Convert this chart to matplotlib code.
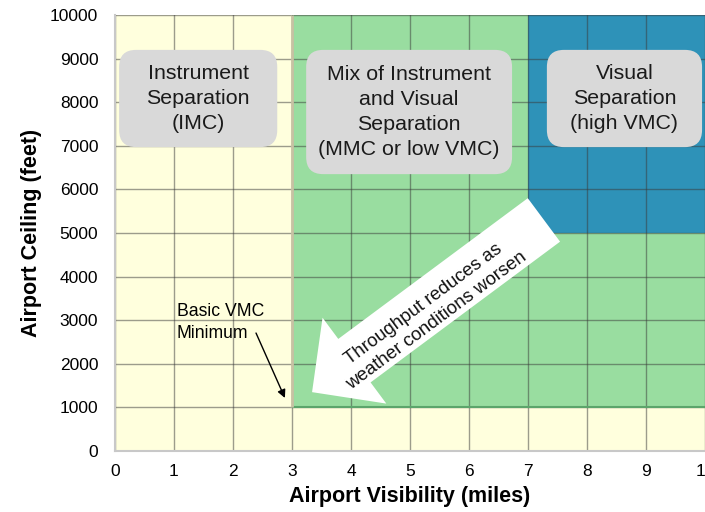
import matplotlib
matplotlib.use('Agg')
import matplotlib.pyplot as plt
from matplotlib.patches import Rectangle, FancyBboxPatch, FancyArrowPatch, ArrowStyle
import numpy as np

plt.rcParams['font.family'] = ['Liberation Sans', 'DejaVu Sans']

# Axis ticks
vis_ticks = list(range(0, 11))                 # miles
ceil_ticks = list(range(0, 10001, 1000))       # feet

# Region boundaries
basic_vmc_vis = 3          # miles
basic_vmc_ceiling = 1000   # feet
high_vmc_vis = 7
high_vmc_ceiling = 5000

# Region labels: (text, x0, x1, y0, y1)
region_labels = ['Instrument\nSeparation\n(IMC)',
                 'Mix of Instrument\nand Visual\nSeparation\n(MMC or low VMC)',
                 'Visual\nSeparation\n(high VMC)']
label_x0 = [0.07, 3.24, 7.32]
label_x1 = [2.75, 6.73, 9.95]
label_y0 = [6970, 6350, 6970]
label_y1 = [9200, 9200, 9200]

# Colours
yellow = '#FFFFDD'
green = '#99DDA0'
blue = '#2E92B8'
boxgray = '#D9D9D9'

fig = plt.figure(figsize=(7.05, 5.12), dpi=100)
ax = fig.add_axes([115/705, 1 - 451/512, 590/705, 436/512])
ax.set_xlim(vis_ticks[0], vis_ticks[-1])
ax.set_ylim(ceil_ticks[0], ceil_ticks[-1])
ax.set_facecolor(yellow)

# Regions
xmax, ymax = vis_ticks[-1], ceil_ticks[-1]
ax.add_patch(Rectangle((basic_vmc_vis, basic_vmc_ceiling), xmax - basic_vmc_vis,
                       ymax - basic_vmc_ceiling, facecolor=green, lw=0, zorder=1))
ax.add_patch(Rectangle((high_vmc_vis, high_vmc_ceiling), xmax - high_vmc_vis,
                       ymax - high_vmc_ceiling, facecolor=blue, lw=0, zorder=1.1))
ax.hlines(basic_vmc_ceiling, basic_vmc_vis, xmax, color='#5CA56B', lw=1.5, zorder=1.6)
ax.vlines(basic_vmc_vis, basic_vmc_ceiling, ymax, color='#C8C2A4', lw=2, zorder=1.6)

# Grid
ax.set_xticks(vis_ticks)
ax.set_yticks(ceil_ticks)
ax.grid(True, color='#3a3a3a', alpha=0.5, lw=1)
ax.tick_params(length=0, labelsize=12.5, colors='black')
ax.tick_params(axis='x', pad=9)
ax.tick_params(axis='y', pad=12)
for s in ['top', 'right']:
    ax.spines[s].set_visible(False)
for s in ['left', 'bottom']:
    ax.spines[s].set_color('#C8C8C8')
    ax.spines[s].set_linewidth(1.5)

ax.set_xlabel('Airport Visibility (miles)', fontsize=15.5, fontweight='bold')
ax.set_ylabel('Airport Ceiling (feet)', fontsize=15.5, fontweight='bold')
ax.xaxis.set_label_coords(0.5, -0.105)
ax.xaxis.label.set_va('center')
ax.yaxis.set_label_coords(-0.142, 0.5)
ax.yaxis.label.set_va('center')

# Rounded label boxes (keep corners circular despite the axis scaling)
p0 = ax.transData.transform((0, 0))
p1 = ax.transData.transform((1, 1))
px_x = p1[0] - p0[0]
px_y = p1[1] - p0[1]
aspect = px_x / px_y
r = 17 / px_x
for txt, x0, x1, y0, y1 in zip(region_labels, label_x0, label_x1, label_y0, label_y1):
    ax.add_patch(FancyBboxPatch((x0, y0), x1 - x0, y1 - y0,
                                boxstyle='round,pad=0,rounding_size=%f' % r,
                                mutation_aspect=aspect, facecolor=boxgray,
                                edgecolor='none', zorder=3))
    ax.text((x0 + x1) / 2, (y0 + y1) / 2, txt, ha='center', va='center',
            fontsize=15.4, color='#1a1a1a', linespacing=1.38, zorder=4)

# Big arrow
tail = (7.27, 5300)
tip = (3.34, 1350)
arrow = FancyArrowPatch(tail, tip,
                        arrowstyle=ArrowStyle.Simple(head_length=38, head_width=77,
                                                     tail_width=39),
                        mutation_scale=1, shrinkA=0, shrinkB=0,
                        facecolor='white', edgecolor='none', zorder=5)
ax.add_patch(arrow)
dA = ax.transData.transform(tail)
dB = ax.transData.transform(tip)
ang = np.degrees(np.arctan2(dA[1] - dB[1], dA[0] - dB[0]))
ax.text(5.34, 3170, 'Throughput reduces as\nweather conditions worsen',
        rotation=ang, rotation_mode='anchor', ha='center', va='center',
        fontsize=13.4, linespacing=1.3, color='#111111', zorder=6)

# Basic VMC minimum annotation
ax.text(1.05, 3390, 'Basic VMC\nMinimum', ha='left', va='top', fontsize=12.7,
        linespacing=1.35, zorder=4)
ax.annotate('', xy=(2.88, 1216), xytext=(2.39, 2706),
            arrowprops=dict(arrowstyle='-|>', color='black', lw=1,
                            mutation_scale=12, shrinkA=0, shrinkB=0), zorder=4)

fig.savefig('out.png', dpi=100)
